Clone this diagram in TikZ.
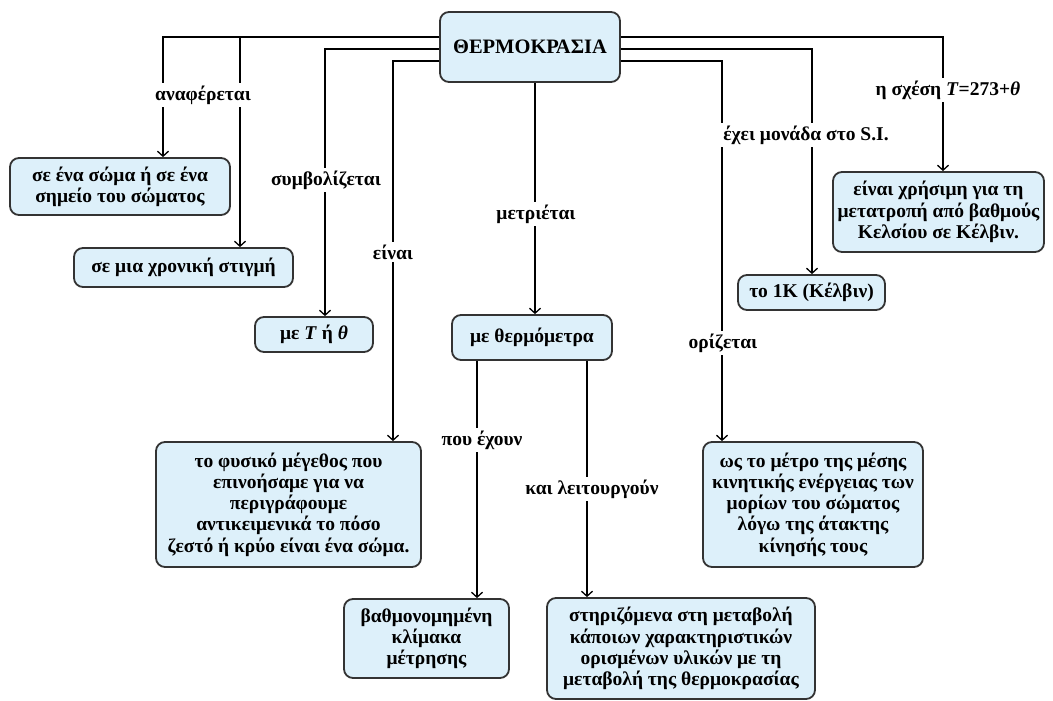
\documentclass[tikz,border=0pt]{standalone}
\usepackage{fontspec}
\setmainfont{Liberation Serif}
\usetikzlibrary{arrows.meta}
\definecolor{boxfill}{HTML}{DDF0FA}
\definecolor{boxline}{HTML}{333333}
\tikzset{
  conc/.style={draw=boxline, line width=1.8pt, fill=boxfill, rounded corners=9pt,
    align=center, font=\bfseries\fontsize{19.5}{21.3}\selectfont, inner sep=0pt},
  lbl/.style={fill=white, inner sep=3pt, font=\bfseries\fontsize{19.5}{21.3}\selectfont},
  link/.style={line width=1.3pt, draw=black},
  arr/.style={link, -{Straight Barb[length=5pt,width=11pt,line width=1.3pt]}}
}
\begin{document}
\begin{tikzpicture}[x=1pt,y=-1pt]
\useasboundingbox[fill=white] (0,0) rectangle (1053,701);
% nodes
\node[conc, minimum width=180pt, minimum height=70pt, font=\bfseries\fontsize{20.5}{24}\selectfont] (root) at (530,47) {ΘΕΡΜΟΚΡΑΣΙΑ};
\node[conc, minimum width=220pt, minimum height=57pt] (n1) at (120,186.5) {σε ένα σώμα ή σε ένα\\σημείο του σώματος};
\node[conc, minimum width=219pt, minimum height=39pt] (n2) at (183.5,267.5) {σε μια χρονική στιγμή};
\node[conc, minimum width=118pt, minimum height=35pt] (n3) at (314,334.5) {με \textit{T} ή \textit{θ}};
\node[conc, minimum width=265pt, minimum height=125pt] (n4) at (288.5,504.5) {το φυσικό μέγεθος που\\επινοήσαμε για να\\περιγράφουμε\\αντικειμενικά το πόσο\\ζεστό ή κρύο είναι ένα σώμα.};
\node[conc, minimum width=160pt, minimum height=45pt] (n5) at (532,337.5) {με θερμόμετρα};
\node[conc, minimum width=165pt, minimum height=79pt] (n6) at (426.5,638.5) {βαθμονομημένη\\κλίμακα\\μέτρησης};
\node[conc, minimum width=268pt, minimum height=101pt] (n7) at (681,648.5) {στηριζόμενα στη μεταβολή\\κάποιων χαρακτηριστικών\\ορισμένων υλικών με τη\\μεταβολή της θερμοκρασίας};
\node[conc, minimum width=220pt, minimum height=125pt] (n8) at (813,504.5) {ως το μέτρο της μέσης\\κινητικής ενέργειας των\\μορίων του σώματος\\λόγω της άτακτης\\κίνησής τους};
\node[conc, minimum width=147pt, minimum height=35pt] (n9) at (811.5,292.5) {το 1Κ (Κέλβιν)};
\node[conc, minimum width=211pt, minimum height=80pt] (n10) at (938.5,212) {είναι χρήσιμη για τη\\μετατροπή από βαθμούς\\Κελσίου σε Κέλβιν.};
% connectors
\draw[arr] (root.west |- 0,37) -| (n1.north -| 163,0);
\draw[arr] (root.west |- 0,37) -| (n2.north -| 240,0);
\draw[arr] (root.west |- 0,49) -| (n3.north -| 325,0);
\draw[arr] (root.west |- 0,61) -| (n4.north -| 393,0);
\draw[arr] (root.south -| 535,0) -- (n5.north -| 535,0);
\draw[arr] (root.east |- 0,61) -| (n8.north -| 722,0);
\draw[arr] (root.east |- 0,49) -| (n9.north -| 812,0);
\draw[arr] (root.east |- 0,37) -| (n10.north -| 943,0);
\draw[arr] (n5.south -| 477,0) -- (n6.north -| 477,0);
\draw[arr] (n5.south -| 587,0) -- (n7.north -| 587,0);
% labels
\node[lbl] (l1) at (203,95) {αναφέρεται};
\node[lbl] (l2) at (326,180) {συμβολίζεται};
\node[lbl] (l3) at (393,252) {είναι};
\node[lbl] (l4) at (536,214) {μετριέται};
\node[lbl] (l5) at (723,343) {ορίζεται};
\node[lbl] (l6) at (806,135) {έχει μονάδα στο S.I.};
\node[lbl] (l7) at (948,90) {η σχέση \textit{T}=273+\textit{θ}};
\node[lbl] (l8) at (482,440) {που έχουν};
\node[lbl] (l9) at (592,489) {και λειτουργούν};
\end{tikzpicture}
\end{document}
